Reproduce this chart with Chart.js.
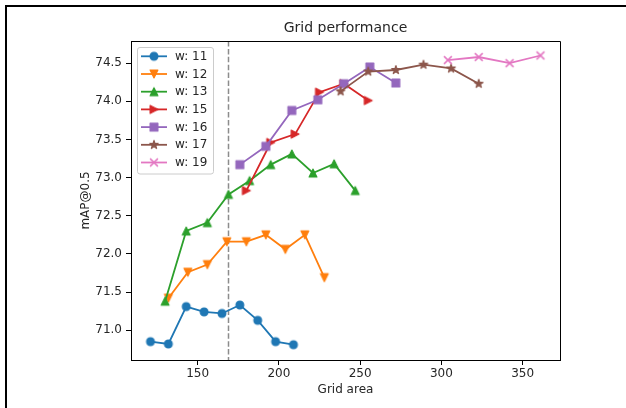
<!DOCTYPE html>
<html>
<head>
<meta charset="utf-8">
<title>Grid performance</title>
<script src="https://cdn.jsdelivr.net/npm/chart.js@4.4.1/dist/chart.umd.min.js"></script>
<style>
  html, body { margin: 0; padding: 0; background: #fff; }
  #wrap { position: relative; width: 626px; height: 408px; overflow: hidden; }
  #frame { position: absolute; left: 5px; top: 5px; right: 0; bottom: 0;
           border-top: 2px solid #000; border-left: 2px solid #000; pointer-events: none; }
</style>
</head>
<body>
<div id="wrap">
  <canvas id="gridChart" width="626" height="408"></canvas>
  <div id="frame"></div>
</div>
<script>
// Data (grid area = w * h)
const seriesLabels = ['w: 11', 'w: 12', 'w: 13', 'w: 15', 'w: 16', 'w: 17', 'w: 19'];

const areaW11 = [121, 132, 143, 154, 165, 176, 187, 198, 209];
const mapW11  = [70.85, 70.82, 71.31, 71.24, 71.22, 71.33, 71.13, 70.85, 70.81];

const areaW12 = [132, 144, 156, 168, 180, 192, 204, 216, 228];
const mapW12  = [71.42, 71.76, 71.86, 72.16, 72.16, 72.25, 72.06, 72.25, 71.69];

const areaW13 = [130, 143, 156, 169, 182, 195, 208, 221, 234, 247];
const mapW13  = [71.38, 72.30, 72.41, 72.78, 72.96, 73.17, 73.31, 73.06, 73.18, 72.83];

const areaW15 = [180, 195, 210, 225, 240, 255];
const mapW15  = [72.83, 73.46, 73.57, 74.12, 74.23, 74.01];

const areaW16 = [176, 192, 208, 224, 240, 256, 272];
const mapW16  = [73.17, 73.41, 73.88, 74.02, 74.23, 74.45, 74.24];

const areaW17 = [238, 255, 272, 289, 306, 323];
const mapW17  = [74.13, 74.39, 74.41, 74.48, 74.43, 74.23];

const areaW19 = [304, 323, 342, 361];
const mapW19  = [74.54, 74.58, 74.50, 74.60];

const xTickValues = [150, 200, 250, 300, 350];
const yTickValues = [71.0, 71.5, 72.0, 72.5, 73.0, 73.5, 74.0, 74.5];
const thresholdArea = 169;

// Styles
const colors = ['#1f77b4', '#ff7f0e', '#2ca02c', '#d62728', '#9467bd', '#8c564b', '#e377c2'];
const markerKinds = ['o', 'v', '^', '>', 's', '*', 'x'];

const allAreas = [areaW11, areaW12, areaW13, areaW15, areaW16, areaW17, areaW19];
const allMaps = [mapW11, mapW12, mapW13, mapW15, mapW16, mapW17, mapW19];

// matplotlib-like markers as small canvases
function makeMarker(kind, color) {
    const c = document.createElement('canvas');
    c.width = 16;
    c.height = 16;
    const g = c.getContext('2d');
    const s = kind === '*' ? 4.4 : 3.9;
    g.translate(8, 8);
    g.fillStyle = color;
    g.strokeStyle = color;
    g.lineWidth = 1.2;
    g.lineJoin = 'round';
    g.beginPath();
    if (kind === 'o') {
        g.arc(0, 0, s, 0, Math.PI * 2);
    } else if (kind === 'v') {
        g.moveTo(0, s); g.lineTo(-s, -s); g.lineTo(s, -s); g.closePath();
    } else if (kind === '^') {
        g.moveTo(0, -s); g.lineTo(-s, s); g.lineTo(s, s); g.closePath();
    } else if (kind === '>') {
        g.moveTo(s, 0); g.lineTo(-s, -s); g.lineTo(-s, s); g.closePath();
    } else if (kind === 's') {
        g.rect(-s, -s, 2 * s, 2 * s);
    } else if (kind === '*') {
        const inner = s * 0.381966;
        for (let i = 0; i < 10; i++) {
            const r = i % 2 === 0 ? s : inner;
            const a = -Math.PI / 2 + i * Math.PI / 5;
            const px = r * Math.cos(a), py = r * Math.sin(a);
            if (i === 0) g.moveTo(px, py); else g.lineTo(px, py);
        }
        g.closePath();
    } else if (kind === 'x') {
        g.moveTo(-s, -s); g.lineTo(s, s);
        g.moveTo(-s, s); g.lineTo(s, -s);
        g.lineWidth = 1.5;
        g.stroke();
        return c;
    }
    g.fill();
    g.stroke();
    return c;
}

const markers = markerKinds.map((k, i) => makeMarker(k, colors[i]));

const datasets = seriesLabels.map((label, i) => ({
    label: label,
    data: allAreas[i].map((x, j) => ({ x: x, y: allMaps[i][j] })),
    borderColor: colors[i],
    backgroundColor: colors[i],
    borderWidth: 1.8,
    pointStyle: markers[i],
    pointRadius: 4,
    tension: 0,
    order: seriesLabels.length - i
}));

// dashed vertical reference line, full spines, boxed legend
const extras = {
    id: 'extras',
    beforeDatasetsDraw(chart) {
        const { ctx, chartArea, scales } = chart;
        const x = scales.x.getPixelForValue(thresholdArea);
        ctx.save();
        ctx.strokeStyle = '#8c8c8c';
        ctx.lineWidth = 1.5;
        ctx.setLineDash([5.5, 2.4]);
        ctx.beginPath();
        ctx.moveTo(x, chartArea.top);
        ctx.lineTo(x, chartArea.bottom);
        ctx.stroke();
        ctx.restore();
    },
    afterDraw(chart) {
        const { ctx, chartArea } = chart;
        ctx.save();
        // top and right spines
        ctx.strokeStyle = '#000';
        ctx.lineWidth = 1;
        ctx.beginPath();
        ctx.moveTo(Math.round(chartArea.left) + 0.5, Math.round(chartArea.top) + 0.5);
        ctx.lineTo(Math.round(chartArea.right) + 0.5, Math.round(chartArea.top) + 0.5);
        ctx.lineTo(Math.round(chartArea.right) + 0.5, Math.round(chartArea.bottom) + 0.5);
        ctx.stroke();

        // legend box
        const x0 = chartArea.left + 6, y0 = chartArea.top + 6;
        const w = 76, h = 126.5;
        ctx.beginPath();
        if (ctx.roundRect) ctx.roundRect(x0 + 0.5, y0 + 0.5, w, h, 2.5);
        else ctx.rect(x0 + 0.5, y0 + 0.5, w, h);
        ctx.fillStyle = 'rgba(255,255,255,0.8)';
        ctx.fill();
        ctx.strokeStyle = '#cccccc';
        ctx.stroke();

        ctx.font = '12px "DejaVu Sans"';
        ctx.textBaseline = 'middle';
        ctx.textAlign = 'left';
        seriesLabels.forEach((label, i) => {
            const y = y0 + 9.3 + i * 17.7;
            ctx.strokeStyle = colors[i];
            ctx.lineWidth = 1.8;
            ctx.beginPath();
            ctx.moveTo(x0 + 4, y);
            ctx.lineTo(x0 + 30, y);
            ctx.stroke();
            ctx.drawImage(markers[i], x0 + 17 - 8, y - 8);
            ctx.fillStyle = '#262626';
            ctx.fillText(label, x0 + 38, y + 0.5);
        });
        ctx.restore();
    }
};

Chart.defaults.font.family = '"DejaVu Sans", sans-serif';
Chart.defaults.font.size = 12;
Chart.defaults.color = '#262626';

new Chart(document.getElementById('gridChart'), {
    type: 'line',
    data: { datasets: datasets },
    plugins: [extras],
    options: {
        responsive: false,
        animation: false,
        devicePixelRatio: 1,
        layout: { padding: { left: 72, right: 66, top: 0, bottom: 0 } },
        plugins: {
            legend: { display: false },
            tooltip: { enabled: false },
            title: {
                display: true,
                text: 'Grid performance',
                fullSize: false,
                color: '#262626',
                font: { size: 14, weight: 'normal' },
                padding: { top: 20, bottom: 4.2 }
            }
        },
        scales: {
            x: {
                type: 'linear',
                min: 109,
                max: 373,
                afterFit: (scale) => { scale.height = 48; },
                afterBuildTicks: (scale) => { scale.ticks = xTickValues.map(v => ({ value: v })); },
                grid: { drawOnChartArea: false, color: '#000', tickLength: 5 },
                border: { color: '#000', width: 1 },
                ticks: { padding: 1.5, maxRotation: 0, color: '#262626' },
                title: {
                    display: true,
                    text: 'Grid area',
                    color: '#262626',
                    font: { size: 12 },
                    padding: { top: 0, bottom: 10.8 }
                }
            },
            y: {
                type: 'linear',
                min: 70.61,
                max: 74.79,
                afterFit: (scale) => { scale.width = 59; },
                afterBuildTicks: (scale) => { scale.ticks = yTickValues.map(v => ({ value: v })); },
                grid: { drawOnChartArea: false, color: '#000', tickLength: 5 },
                border: { color: '#000', width: 1 },
                ticks: { padding: 4, color: '#262626', callback: (v) => Number(v).toFixed(1) },
                title: {
                    display: true,
                    text: 'mAP@0.5',
                    color: '#262626',
                    font: { size: 12 },
                    padding: { top: 6.8, bottom: 0 }
                }
            }
        }
    }
});
</script>
</body>
</html>
